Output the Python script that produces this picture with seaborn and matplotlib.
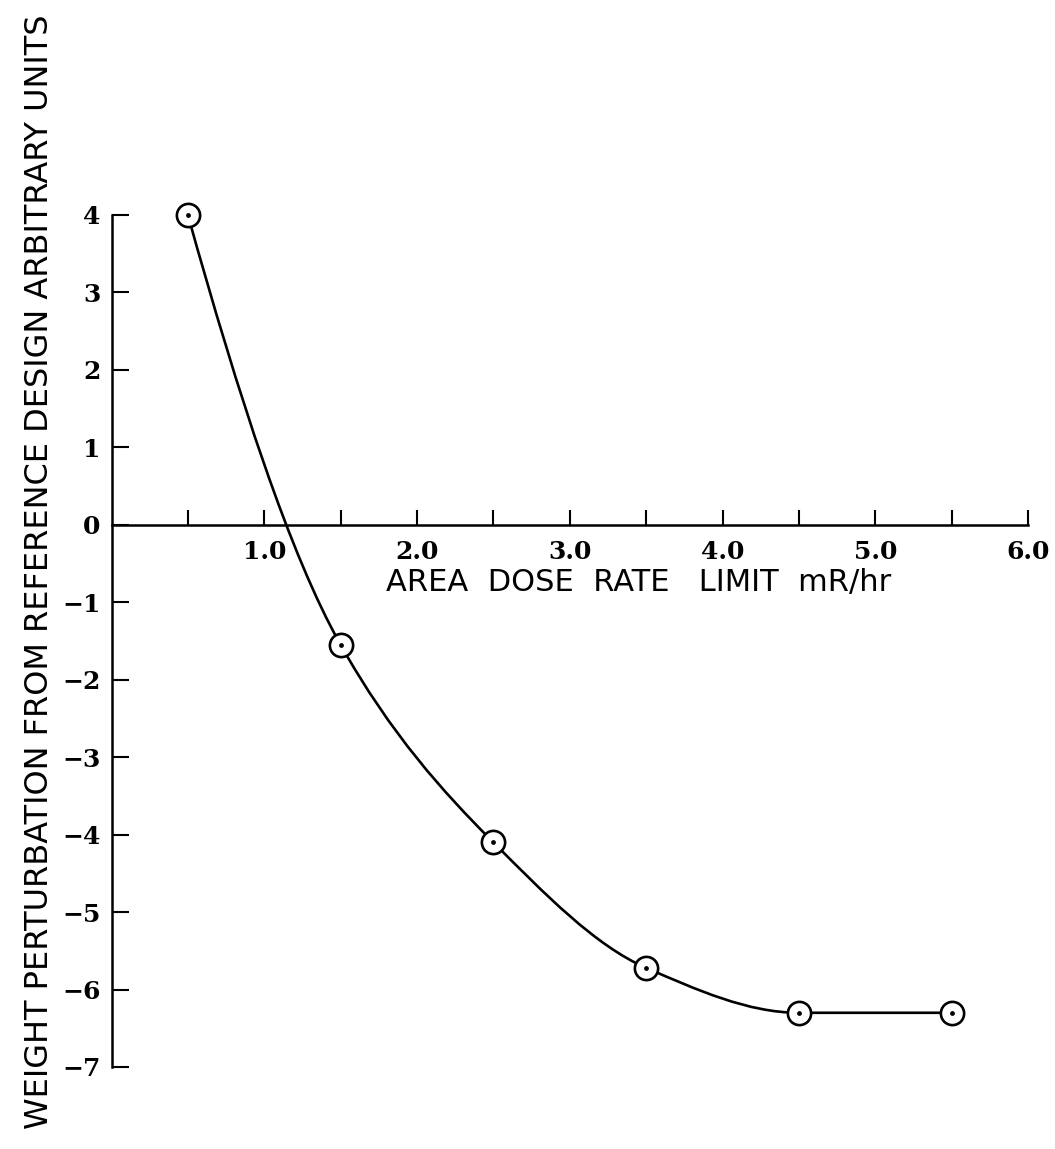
import numpy as np
import pandas as pd
import matplotlib
matplotlib.use("Agg")
import matplotlib.pyplot as plt
from matplotlib.path import Path
from matplotlib.patches import PathPatch
import seaborn as sns

# ---- data ----
dose_rate = [0.5, 1.5, 2.5, 3.5, 4.5, 5.5]
weight_perturbation = [4.0, -1.55, -4.1, -5.72, -6.3, -6.3]
x_major_ticks = [1.0, 2.0, 3.0, 4.0, 5.0, 6.0]
x_major_labels = ["1.0", "2.0", "3.0", "4.0", "5.0", "6.0"]
x_minor_ticks = [0.5, 1.5, 2.5, 3.5, 4.5, 5.5]
y_ticks = [4, 3, 2, 1, 0, -1, -2, -3, -4, -5, -6, -7]
y_labels = ["4", "3", "2", "1", "0", "\u22121", "\u22122", "\u22123", "\u22124", "\u22125", "\u22126", "\u22127"]
x_label = "AREA  DOSE  RATE   LIMIT  mR/hr"
y_label = "WEIGHT PERTURBATION FROM REFERENCE DESIGN ARBITRARY UNITS"

sns.set_style("white")
plt.rcParams["font.family"] = ["DejaVu Sans"]
plt.rcParams["text.color"] = "black"

df = pd.DataFrame({"x": dose_rate, "y": weight_perturbation})

fig = plt.figure(figsize=(10.55, 11.49), dpi=100)
ax = fig.add_axes([111.5 / 1055, 1 - 1067 / 1149, (1028 - 111.5) / 1055, (1067 - 215) / 1149])

# smooth monotone curve through the measured points (cubic Bezier path)
xs = np.array(dose_rate, dtype=float)
ys = np.array(weight_perturbation, dtype=float)
h = np.diff(xs)
d = np.diff(ys) / h
m = np.zeros_like(xs)
for i in range(1, len(xs) - 1):
    if d[i - 1] * d[i] > 0:
        m[i] = 2.0 / (1.0 / d[i - 1] + 1.0 / d[i])
    else:
        m[i] = 0.0
m0 = ((2 * h[0] + h[1]) * d[0] - h[0] * d[1]) / (h[0] + h[1])
m[0] = m0 if np.sign(m0) == np.sign(d[0]) else 0.0
mn = ((2 * h[-1] + h[-2]) * d[-1] - h[-1] * d[-2]) / (h[-1] + h[-2])
m[-1] = mn if (np.sign(mn) == np.sign(d[-1]) and d[-1] != 0) else 0.0
verts = [(xs[0], ys[0])]
codes = [Path.MOVETO]
for i in range(len(xs) - 1):
    verts += [(xs[i] + h[i] / 3, ys[i] + m[i] * h[i] / 3),
              (xs[i + 1] - h[i] / 3, ys[i + 1] - m[i + 1] * h[i] / 3),
              (xs[i + 1], ys[i + 1])]
    codes += [Path.CURVE4] * 3
ax.add_patch(PathPatch(Path(verts, codes), facecolor="none", edgecolor="black",
                       lw=1.9, clip_on=False, zorder=3))

sns.scatterplot(data=df, x="x", y="y", ax=ax, s=280, marker="o",
                facecolor="white", edgecolor="black", linewidth=1.9,
                clip_on=False, zorder=4, legend=False)
sns.scatterplot(data=df, x="x", y="y", ax=ax, s=12, marker="o",
                color="black", linewidth=0, clip_on=False, zorder=5, legend=False)

ax.set_xlim(0, 6.0)
ax.set_ylim(-7, 4)

ax.spines["top"].set_visible(False)
ax.spines["right"].set_visible(False)
ax.spines["bottom"].set_position(("data", 0))
for s in ("left", "bottom"):
    ax.spines[s].set_linewidth(1.8)
    ax.spines[s].set_color("black")

ax.set_xticks(x_major_ticks)
ax.set_xticklabels(x_major_labels)
ax.set_xticks(x_minor_ticks, minor=True)
ax.set_yticks(y_ticks)
ax.set_yticklabels(y_labels)

for lab in ax.get_xticklabels() + ax.get_yticklabels():
    lab.set_fontfamily("DejaVu Serif")
    lab.set_fontweight("bold")
    lab.set_fontsize(18)
    lab.set_color("black")

ax.tick_params(axis="x", which="both", direction="in", length=11, width=1.5,
               pad=11, colors="black", bottom=True)
ax.tick_params(axis="y", which="both", direction="in", length=12, width=1.5,
               pad=8, colors="black", left=True)

ax.set_xlabel("")
ax.set_ylabel("")
ax.text((639 - 111.5) / 916.5, (1067 - 582) / 852, x_label, transform=ax.transAxes,
        ha="center", va="center", fontsize=22, family="DejaVu Sans", color="black")
fig.text(40 / 1055, 1 - 572 / 1149, y_label, rotation=90, ha="center", va="center",
         fontsize=23, family="DejaVu Sans", color="black")

fig.savefig("out.png", dpi=100, facecolor="white")
